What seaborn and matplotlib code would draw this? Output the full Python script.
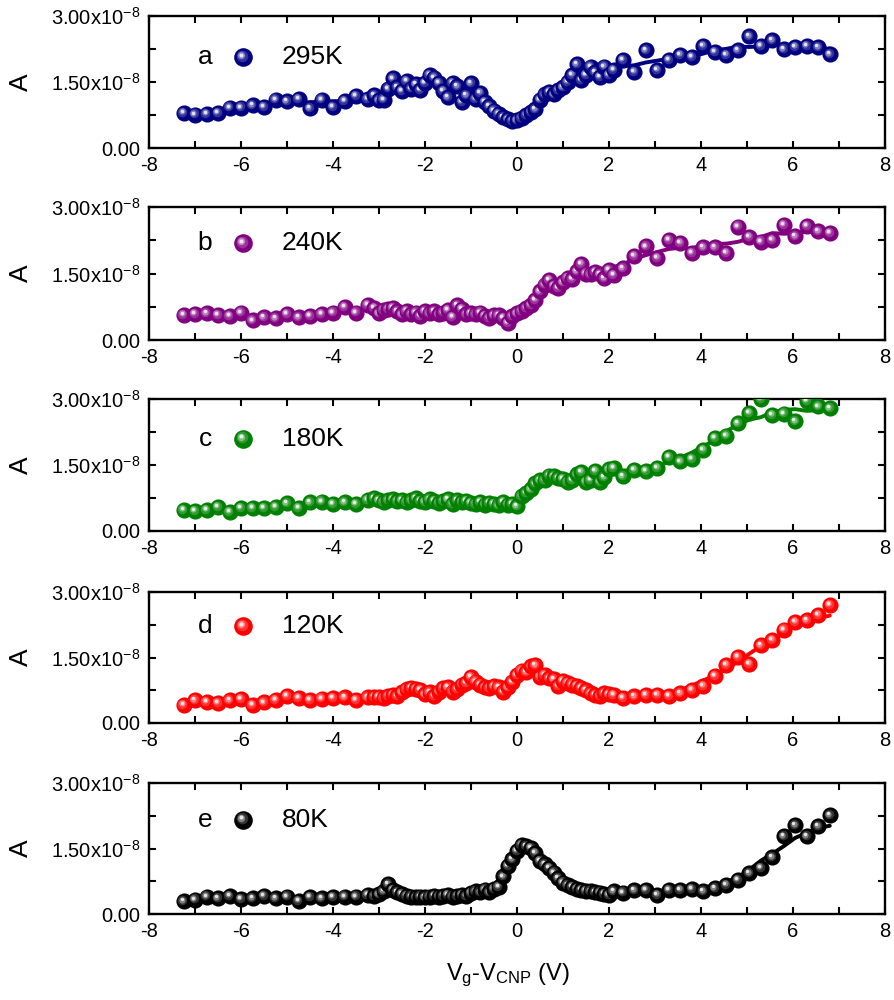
import numpy as np
import pandas as pd
import seaborn as sns
import matplotlib.pyplot as plt
from matplotlib import transforms
from matplotlib.colors import to_rgb

sns.set_style('ticks')
plt.rcParams['font.family'] = ['Liberation Sans', 'DejaVu Sans']
plt.rcParams['mathtext.default'] = 'regular'
for key in ['text.color', 'axes.labelcolor', 'xtick.color', 'ytick.color', 'axes.edgecolor']:
    plt.rcParams[key] = 'black'

#gate voltage relative to CNP (V)
vg = [-7.25, -7.0, -6.75, -6.5, -6.25, -6.0, -5.75, -5.5, -5.25, -5.0, -4.75, -4.5, -4.25, -4.0, -3.75, -3.5, -3.25,
      -3.1, -3.0, -2.9, -2.8, -2.7, -2.6, -2.5, -2.4, -2.3, -2.2, -2.1, -2.0, -1.9, -1.8, -1.7, -1.6, -1.5, -1.4,
      -1.3, -1.2, -1.1, -1.0, -0.9, -0.8, -0.7, -0.6, -0.5, -0.4, -0.3, -0.2, -0.1, 0.0, 0.1, 0.2, 0.3, 0.4,
      0.5, 0.6, 0.7, 0.8, 0.9, 1.0, 1.1, 1.2, 1.3, 1.4, 1.5, 1.6, 1.7, 1.8, 1.9, 2.0, 2.1,
      2.3, 2.55, 2.8, 3.05, 3.3, 3.55, 3.8, 4.05, 4.3, 4.55, 4.8, 5.05, 5.3, 5.55, 5.8, 6.05, 6.3, 6.55, 6.8]

#currents in units of 1e-8 A
i_295 = [0.80, 0.76, 0.78, 0.80, 0.92, 0.92, 0.97, 0.93, 1.10, 1.06, 1.12, 0.90, 1.10, 0.93, 1.07, 1.18, 1.12,
         1.20, 1.08, 1.10, 1.35, 1.58, 1.38, 1.30, 1.52, 1.35, 1.45, 1.32, 1.48, 1.66, 1.60, 1.48, 1.30, 1.15, 1.48,
         1.40, 1.05, 1.20, 1.47, 1.12, 1.25, 1.05, 0.95, 0.85, 0.78, 0.70, 0.65, 0.62, 0.63, 0.68, 0.75, 0.82, 0.88,
         1.10, 1.22, 1.28, 1.22, 1.32, 1.38, 1.50, 1.66, 1.90, 1.55, 1.66, 1.85, 1.72, 1.62, 1.85, 1.66, 1.78,
         2.00, 1.73, 2.22, 1.77, 2.00, 2.11, 2.07, 2.32, 2.19, 2.11, 2.22, 2.54, 2.32, 2.45, 2.24, 2.30, 2.32, 2.29, 2.13]

i_240 = [0.57, 0.59, 0.60, 0.57, 0.54, 0.62, 0.44, 0.51, 0.49, 0.59, 0.51, 0.55, 0.59, 0.62, 0.75, 0.62, 0.79,
         0.72, 0.60, 0.68, 0.70, 0.72, 0.65, 0.58, 0.66, 0.58, 0.62, 0.55, 0.65, 0.60, 0.65, 0.58, 0.62, 0.68, 0.52,
         0.78, 0.70, 0.58, 0.60, 0.58, 0.62, 0.55, 0.50, 0.56, 0.56, 0.50, 0.38, 0.55, 0.60, 0.66, 0.72, 0.79, 0.90,
         1.10, 1.25, 1.36, 1.22, 1.17, 1.30, 1.40, 1.38, 1.55, 1.72, 1.50, 1.48, 1.54, 1.48, 1.39, 1.58, 1.47,
         1.62, 1.90, 2.11, 1.85, 2.26, 2.19, 1.97, 2.09, 2.09, 1.96, 2.56, 2.32, 2.22, 2.26, 2.60, 2.34, 2.58, 2.45, 2.41]

i_180 = [0.48, 0.46, 0.48, 0.55, 0.43, 0.53, 0.52, 0.52, 0.55, 0.63, 0.53, 0.65, 0.67, 0.62, 0.65, 0.62, 0.71,
         0.74, 0.70, 0.66, 0.70, 0.72, 0.68, 0.70, 0.66, 0.70, 0.74, 0.68, 0.66, 0.72, 0.68, 0.64, 0.68, 0.72, 0.62,
         0.70, 0.66, 0.68, 0.64, 0.62, 0.66, 0.60, 0.64, 0.62, 0.58, 0.66, 0.60, 0.62, 0.56, 0.80, 0.86, 0.95, 1.08,
         1.15, 1.16, 1.26, 1.24, 1.20, 1.18, 1.12, 1.16, 1.29, 1.34, 1.12, 1.16, 1.37, 1.12, 1.22, 1.40, 1.43,
         1.24, 1.39, 1.37, 1.44, 1.69, 1.58, 1.64, 1.84, 2.11, 2.17, 2.45, 2.68, 3.00, 2.64, 2.67, 2.49, 2.96, 2.83, 2.79]

i_120 = [0.42, 0.52, 0.48, 0.46, 0.52, 0.55, 0.42, 0.47, 0.53, 0.62, 0.57, 0.53, 0.56, 0.58, 0.59, 0.53, 0.59,
         0.60, 0.60, 0.58, 0.62, 0.64, 0.62, 0.70, 0.78, 0.80, 0.78, 0.76, 0.66, 0.70, 0.62, 0.72, 0.80, 0.82, 0.72,
         0.78, 0.88, 0.92, 1.05, 0.95, 0.88, 0.82, 0.80, 0.84, 0.82, 0.72, 0.82, 0.95, 1.10, 1.20, 1.16, 1.30, 1.32,
         1.05, 1.10, 1.02, 1.00, 0.85, 0.97, 0.92, 0.88, 0.85, 0.80, 0.75, 0.68, 0.65, 0.62, 0.68, 0.66, 0.64,
         0.57, 0.61, 0.65, 0.65, 0.62, 0.68, 0.76, 0.85, 1.08, 1.33, 1.52, 1.35, 1.78, 1.90, 2.14, 2.32, 2.35, 2.47, 2.70]

i_80 = [0.29, 0.33, 0.40, 0.36, 0.42, 0.34, 0.36, 0.42, 0.36, 0.40, 0.30, 0.39, 0.36, 0.39, 0.40, 0.40, 0.44,
        0.42, 0.45, 0.52, 0.68, 0.55, 0.50, 0.46, 0.42, 0.40, 0.38, 0.40, 0.38, 0.40, 0.42, 0.40, 0.42, 0.44, 0.40,
        0.42, 0.44, 0.42, 0.48, 0.52, 0.50, 0.56, 0.50, 0.58, 0.62, 0.86, 1.10, 1.25, 1.45, 1.58, 1.55, 1.52, 1.40,
        1.22, 1.14, 1.05, 0.95, 0.82, 0.72, 0.66, 0.62, 0.58, 0.55, 0.53, 0.52, 0.50, 0.49, 0.46, 0.44, 0.52,
        0.49, 0.54, 0.55, 0.44, 0.55, 0.55, 0.57, 0.52, 0.59, 0.67, 0.78, 0.93, 1.05, 1.30, 1.78, 2.03, 1.78, 2.01, 2.26]

letters = ['a', 'b', 'c', 'd', 'e']
temps = ['295K', '240K', '180K', '120K', '80K']
currents = [i_295, i_240, i_180, i_120, i_80]
colors = ['#000080', '#800080', '#008000', '#ff0000', '#000000']

W, H = 894, 1000
fig = plt.figure(figsize=(W / 100, H / 100), dpi=100)

#panel boxes in pixels: top, bottom
boxes = [(16, 148), (207, 340), (399, 531), (592, 723), (783, 914)]
leg_y = [0.69, 0.73, 0.70, 0.74, 0.72]
left, right = 149, 885

#highlight layers of a ball: size, whiteness, shift (pt)
shine = [(48, 0.2, 0.8), (20, 0.5, 1.2), (6, 0.9, 1.4)]


def tint(c, f):
    c = np.array(to_rgb(c))
    return tuple(c + (1 - c) * f)


def spheres(ax, x, y, color, trans=None, s=135, scale=1.0):
    #fake 3d ball drawn one by one so later balls cover earlier ones
    base = trans if trans is not None else ax.transData
    offs = [transforms.offset_copy(base, fig=fig, x=-d * scale, y=d * scale, units='points')
            for _, _, d in shine]
    for n, (xi, yi) in enumerate(zip(x, y)):
        z = 3 + n * 0.01
        ax.scatter([xi], [yi], s=s, color=color, linewidths=0, transform=base, zorder=z)
        for (size, f, _), off in zip(shine, offs):
            ax.scatter([xi], [yi], s=size * scale ** 2, color=tint(color, f), linewidths=0,
                       transform=off, zorder=z + 0.001)


for k in range(5):
    top, bot = boxes[k]
    ax = fig.add_axes([left / W, 1 - bot / H, (right - left) / W, (bot - top) / H])
    df = pd.DataFrame({'vg': vg, 'i': np.array(currents[k]) * 1e-8})
    df['fit'] = df['i'].rolling(7, center=True, min_periods=1).mean()

    sns.lineplot(data=df, x='vg', y='fit', color=colors[k], linewidth=2.8, ax=ax, zorder=2)
    spheres(ax, df['vg'], df['i'], colors[k])

    ax.set_xlim(-8, 8)
    ax.set_ylim(0, 3e-8)
    ax.set_xticks(range(-8, 9, 2))
    ax.set_xticks(range(-7, 8, 2), minor=True)
    ax.set_xticklabels([str(t) for t in range(-8, 9, 2)])
    ax.set_yticks([0, 1.5e-8, 3e-8])
    ax.set_yticks([0.75e-8, 2.25e-8], minor=True)
    ax.set_yticklabels(['0.00', r'1.50x10$^{-8}$', r'3.00x10$^{-8}$'])
    ax.tick_params(which='both', direction='in', top=True, right=True, length=5, width=1.5,
                   labelsize=14.5, pad=6)
    for sp in ax.spines.values():
        sp.set_linewidth(1.7)
        sp.set_color('black')

    ax.set_xlabel('')
    ax.set_ylabel('A', fontsize=19)
    ax.yaxis.set_label_coords(-0.158, 0.5)

    #legend entry
    ax.text((205 - left) / (right - left), leg_y[k], letters[k], transform=ax.transAxes,
            fontsize=19, ha='center', va='center')
    spheres(ax, [(243 - left) / (right - left)], [leg_y[k]], colors[k], trans=ax.transAxes,
            s=180, scale=1.2)
    ax.text((282 - left) / (right - left), leg_y[k], temps[k], transform=ax.transAxes,
            fontsize=19, ha='left', va='center')

fig.text(508 / W, 1 - 975 / H, r'V$_{g}$-V$_{CNP}$ (V)', fontsize=17, ha='center', va='center')

fig.savefig('out.png', dpi=100)
